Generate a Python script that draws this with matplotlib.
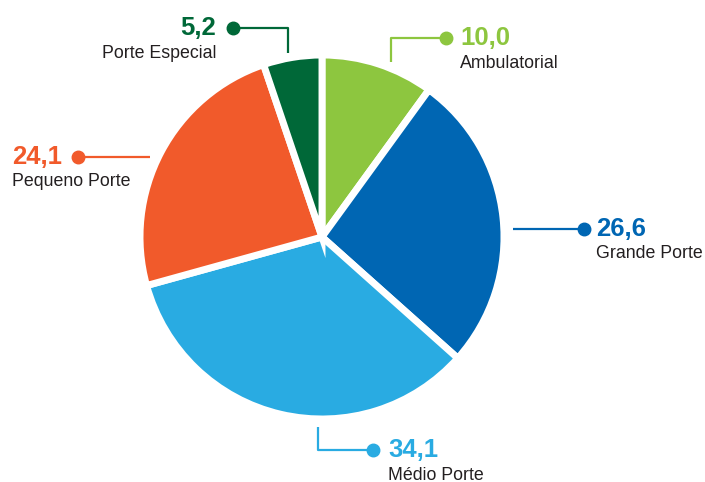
import matplotlib.pyplot as plt

# Pie values (percent), clockwise from the top
labels = ["Ambulatorial", "Grande Porte", "Médio Porte", "Pequeno Porte", "Porte Especial"]
values = [10.0, 26.6, 34.1, 24.1, 5.2]
value_text = ["10,0", "26,6", "34,1", "24,1", "5,2"]
colors = ["#8DC63F", "#0066B3", "#29ABE2", "#F15A2B", "#006838"]

W, H = 705, 482
plt.rcParams['font.family'] = ['Liberation Sans', 'DejaVu Sans']

fig = plt.figure(figsize=(W / 100, H / 100), dpi=100)
ax = fig.add_axes([0, 0, 1, 1])

# pie, with white gaps between slices
ax.pie(values, colors=colors, startangle=90, counterclock=False,
       center=(322, H - 237), radius=182,
       wedgeprops=dict(edgecolor='white', linewidth=5))

# callouts: leader line path (image px), dot, text anchor, alignment
callouts = {
    "Ambulatorial": dict(path=[(391, 62), (391, 38), (446, 38)], tx=460, ty=38, ha='left'),
    "Grande Porte": dict(path=[(513, 229), (584, 229)], tx=596, ty=229, ha='left'),
    "Médio Porte": dict(path=[(318, 427), (318, 450), (373, 450)], tx=388, ty=450, ha='left'),
    "Pequeno Porte": dict(path=[(150, 157), (78, 157)], tx=12, ty=157, ha='left'),
    "Porte Especial": dict(path=[(288, 53), (288, 28), (233, 28)], tx=216, ty=28, ha='right'),
}

for name, val, col in zip(labels, value_text, colors):
    c = callouts[name]
    xs = [p[0] for p in c["path"]]
    ys = [H - p[1] for p in c["path"]]
    ax.plot(xs, ys, color=col, linewidth=1.6, solid_capstyle='butt')
    ax.plot(xs[-1], ys[-1], 'o', color=col, markersize=9)
    ax.text(c["tx"], H - c["ty"], val, color=col, fontsize=18.5, fontweight='bold',
            ha=c["ha"], va='center')
    ax.text(c["tx"], H - c["ty"] - 25, name, color='#231F20', fontsize=12.8,
            ha=c["ha"], va='center')

ax.set_xlim(0, W)
ax.set_ylim(0, H)
ax.set_aspect('equal')
ax.axis('off')

plt.savefig("out.png", dpi=100)
